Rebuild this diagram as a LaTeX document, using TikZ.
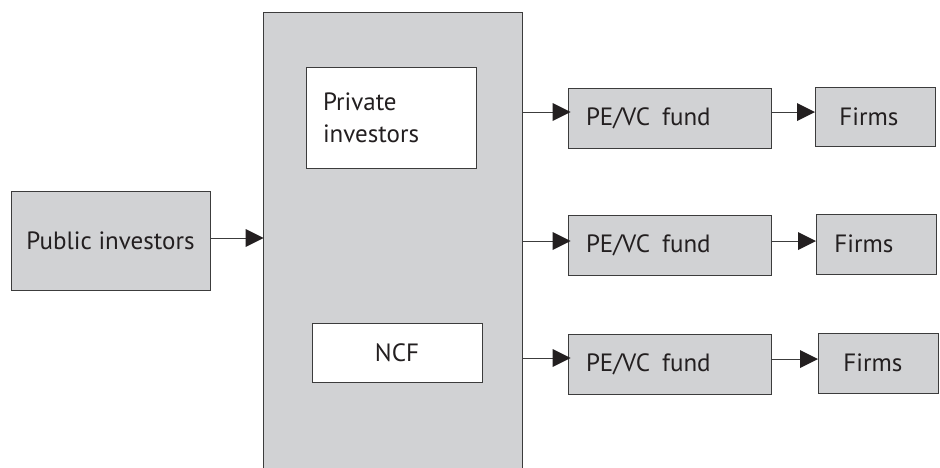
\documentclass[tikz,border=0pt]{standalone}
\usepackage{fontspec}
\setmainfont{PT Sans}
\usepackage{xcolor}
\usepackage{tikz}
\usetikzlibrary{arrows.meta, positioning}

\definecolor{boxgray}{RGB}{209,210,212}
\definecolor{edgegray}{RGB}{60,60,60}
\definecolor{tipblack}{RGB}{35,31,32}

\begin{document}
\begin{tikzpicture}[x=1pt, y=-1pt,
  every node/.style={rectangle, draw=edgegray, line width=0.9pt, inner sep=0pt,
    font=\fontsize{25}{32}\selectfont, text=tipblack},
  graybox/.style={fill=boxgray},
  whitebox/.style={fill=white},
  flow/.style={draw=edgegray, line width=0.8pt,
    -{Triangle[length=18pt, width=18pt, fill=tipblack, line width=0pt]}}]
\useasboundingbox (0,0) rectangle (940,467);
% the hub block, open at the bottom
\node[graybox, draw=none, minimum width=258pt, minimum height=470pt] (hub) at (393,248) {};
\draw[edgegray, line width=1.2pt] (hub.south west) |- (hub.north east) -- (hub.south east);
\node[whitebox, minimum width=170pt, minimum height=101pt, text width=136pt, align=left] (priv) at (391,117.5) {Private\\investors};
\node[whitebox, minimum width=170pt, minimum height=59pt] (ncf) at (397,352.5) {NCF};
% the investors on the left
\node[graybox, minimum width=199pt, minimum height=99pt] (pub) at (110.5,240.5) {Public investors};
% funds and firms
\node[graybox, minimum width=203pt, minimum height=60pt, text width=167pt, align=left] (fund1) at (669.5,118) {PE/VC\hspace{12pt}fund};
\node[graybox, minimum width=203pt, minimum height=60pt, text width=167pt, align=left] (fund2) at (669.5,245.5) {PE/VC\hspace{12pt}fund};
\node[graybox, minimum width=203pt, minimum height=60pt, text width=167pt, align=left] (fund3) at (669.5,364) {PE/VC\hspace{12pt}fund};
\node[graybox, minimum height=59pt, text width=120pt, align=left, anchor=west] (firm1) at (815,116.5) {\hspace{24pt}Firms};
\node[graybox, minimum height=60pt, text width=120pt, align=left, anchor=west] (firm2) at (816,244) {\hspace{18pt}Firms};
\node[graybox, minimum height=60pt, text width=120pt, align=left, anchor=west] (firm3) at (818,363) {\hspace{25pt}Firms};
% connectors
\draw[flow] (pub.east) ++(0,-2.5) coordinate (pubout) -- (pubout -| hub.west);
\draw[flow] ([yshift=6pt]fund1.west -| hub.east) -- ([yshift=6pt, xshift=3pt]fund1.west);
\draw[flow] ([yshift=4.5pt]fund2.west -| hub.east) -- ([yshift=4.5pt, xshift=3pt]fund2.west);
\draw[flow] ([yshift=6pt]fund3.west -| hub.east) -- ([yshift=6pt, xshift=3pt]fund3.west);
\draw[flow] ([yshift=6pt]fund1.east) -- ([yshift=6pt]fund1.east -| firm1.west);
\draw[flow] ([yshift=4.5pt]fund2.east) -- ([yshift=4.5pt]fund2.east -| firm2.west);
\draw[flow] ([yshift=5pt]fund3.east) -- ([yshift=5pt]fund3.east -| firm3.west);
\end{tikzpicture}
\end{document}
